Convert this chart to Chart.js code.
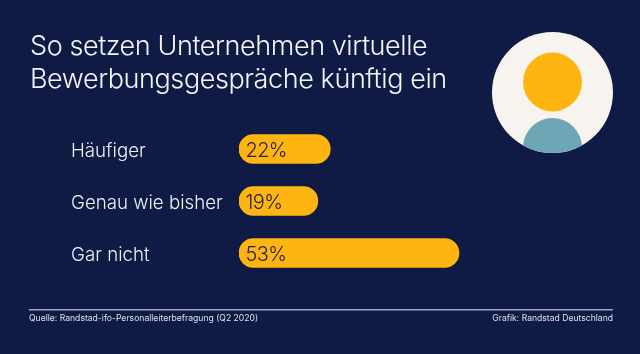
<!DOCTYPE html>
<html>
<head>
<meta charset="utf-8">
<style>
  html, body { margin: 0; padding: 0; background: #0f1a45; }
  #wrap { width: 640px; height: 354px; position: relative; }
</style>
<script src="https://cdn.jsdelivr.net/npm/chart.js@4"></script>
</head>
<body>
<div id="wrap"><canvas id="chart_virtualInterviews"></canvas></div>
<script>
const categories = ['Häufiger', 'Genau wie bisher', 'Gar nicht'];
const shares = [22, 19, 53];
const titleLines = ['So setzen Unternehmen virtuelle', 'Bewerbungsgespräche künftig ein'];
const sourceText = 'Quelle: Randstad-ifo-Personalleiterbefragung (Q2 2020)';
const creditText = 'Grafik: Randstad Deutschland';

const NAVY = '#0f1a45';
const YELLOW = '#ffb511';
const FONT = 'Inter, "Liberation Sans", sans-serif';

var chart_virtualInterviews = new Chart(document.getElementById('chart_virtualInterviews'), {
    type: 'bar',
    data: {
        labels: categories,
        datasets: [
            {
                data: shares,
                backgroundColor: YELLOW,
                borderRadius: 14.5,
                borderSkipped: false,
                barThickness: 29
            }
        ]
    },
    options: {
        animation: false,
        responsive: true,
        maintainAspectRatio: false,
        indexAxis: 'y',
        layout: {
            padding: { left: 71, right: 152, top: 123, bottom: 75 }
        },
        plugins: {
            legend: { display: false },
            tooltip: { enabled: false }
        },
        scales: {
            x: {
                display: false,
                min: 0,
                max: 60
            },
            y: {
                border: { display: false },
                grid: { display: false },
                afterFit: (axis) => { axis.width = 168; },
                ticks: {
                    crossAlign: 'far',
                    padding: 0,
                    labelOffset: 2.5,
                    color: '#eef0f6',
                    font: { family: FONT, size: 18.7, weight: 300 }
                }
            }
        }
    },
    plugins: [{
        id: 'slideParts',
        beforeDraw: (chart) => {
            const ctx = chart.ctx;
            ctx.save();
            ctx.fillStyle = NAVY;
            ctx.fillRect(0, 0, chart.width, chart.height);

            // avatar
            ctx.beginPath();
            ctx.arc(552.5, 92.5, 60.5, 0, Math.PI * 2);
            ctx.fillStyle = '#f7f4ef';
            ctx.fill();
            ctx.clip();
            ctx.beginPath();
            ctx.arc(552.5, 82, 29.5, 0, Math.PI * 2);
            ctx.fillStyle = YELLOW;
            ctx.fill();
            ctx.beginPath();
            ctx.arc(552.5, 147.5, 29.5, 0, Math.PI * 2);
            ctx.fillStyle = '#6fa6b6';
            ctx.fill();
            ctx.restore();

            // title
            ctx.save();
            ctx.fillStyle = '#f4f5f8';
            ctx.textAlign = 'left';
            ctx.textBaseline = 'alphabetic';
            ctx.font = '300 27px ' + FONT;
            ctx.letterSpacing = '-0.42px';
            ctx.fillText(titleLines[0], 30, 55);
            ctx.fillText(titleLines[1], 30, 88);
            ctx.letterSpacing = '0px';

            // footer
            ctx.fillStyle = '#a3a8c6';
            ctx.fillRect(29, 309, 584, 1.5);
            ctx.fillStyle = '#dfe1ea';
            ctx.font = '400 8.6px ' + FONT;
            ctx.fillText(sourceText, 29, 321);
            ctx.textAlign = 'right';
            ctx.fillText(creditText, 613, 321);
            ctx.restore();
        },
        afterDatasetsDraw: (chart) => {
            const ctx = chart.ctx;
            ctx.save();
            ctx.fillStyle = '#24233a';
            ctx.font = '300 20px ' + FONT;
            ctx.letterSpacing = '-0.6px';
            ctx.textAlign = 'left';
            ctx.textBaseline = 'middle';
            chart.getDatasetMeta(0).data.forEach((bar, i) => {
                ctx.fillText(shares[i] + '%', bar.base + 6.5, bar.y + 2);
            });
            ctx.restore();
        }
    }]
});
</script>
</body>
</html>
